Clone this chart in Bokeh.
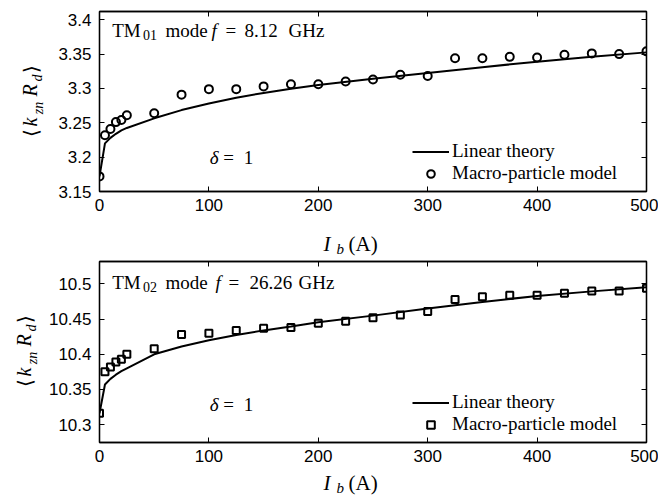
import numpy as np
from bokeh.plotting import figure
from bokeh.models import (Range1d, FixedTicker, LinearAxis, Label, Legend,
                          LegendItem, CustomJSTickFormatter)
from bokeh.layouts import column, row
from bokeh.embed import file_html
from bokeh.resources import INLINE

# ---------------- data ----------------
beam_current = [0, 5, 10, 15, 20, 25, 50, 75, 100, 125, 150, 175, 200, 225,
                250, 275, 300, 325, 350, 375, 400, 425, 450, 475, 500]
tm01_macro = [3.172, 3.232, 3.241, 3.251, 3.254, 3.261, 3.264, 3.291, 3.299,
              3.299, 3.303, 3.306, 3.306, 3.310, 3.313, 3.320, 3.318, 3.344,
              3.344, 3.346, 3.345, 3.349, 3.351, 3.350, 3.354]
tm02_macro = [10.316, 10.375, 10.382, 10.389, 10.393, 10.400, 10.408, 10.428,
              10.430, 10.434, 10.437, 10.438, 10.444, 10.447, 10.452, 10.456,
              10.461, 10.478, 10.482, 10.484, 10.484, 10.487, 10.490, 10.490,
              10.494]
theory_current = [0, 5, 10, 15, 20, 25, 50, 75, 100, 125, 150, 175, 200, 250,
                  300, 350, 400, 450, 500]
tm01_theory = [3.172, 3.220, 3.228, 3.234, 3.239, 3.2425, 3.2565, 3.2685,
               3.278, 3.2865, 3.2935, 3.2995, 3.305, 3.314, 3.3225, 3.331,
               3.339, 3.346, 3.3525]
tm02_theory = [10.316, 10.357, 10.365, 10.371, 10.376, 10.380, 10.400, 10.411,
               10.420, 10.4275, 10.434, 10.4395, 10.4455, 10.455, 10.465,
               10.4745, 10.483, 10.4895, 10.4955]

x_ticks = [0, 100, 200, 300, 400, 500]
tm01_yticks = [3.15, 3.2, 3.25, 3.3, 3.35, 3.4]
tm02_yticks = [10.3, 10.35, 10.4, 10.45, 10.5]

SERIF = "Liberation Serif"
SANS = "Liberation Sans"
INK = "black"

fmt_code = "return Number(tick.toFixed(2)).toString();"

YLAB_W = 44          # width of the strip that carries the y label
BORDER_BOTTOM = 30   # room for the x tick labels
MID = 0.34           # distance from baseline to the text middle, in em


def put(p, s, x, y, size, style="normal", font=SERIF):
    """x, y give the left end of the text and its baseline (screen units)."""
    p.add_layout(Label(x=x, y=y + MID * size, x_units="screen",
                       y_units="screen", text=s, text_font=font,
                       text_font_size=f"{size}px", text_font_style=style,
                       text_align="left", text_baseline="middle",
                       text_color=INK))


def put_up(p, s, cx, cy, size, style="normal", font=SERIF):
    """Text read bottom-to-top, centred on (cx, cy) (screen units)."""
    p.add_layout(Label(x=cx, y=cy, x_units="screen", y_units="screen",
                       text=s, text_font=font, text_font_size=f"{size}px",
                       text_font_style=style, text_align="center",
                       text_baseline="middle", angle=np.pi / 2,
                       text_color=INK))


def label_strip(w, h):
    f = figure(width=w, height=h, x_range=Range1d(0, w), y_range=Range1d(0, h),
               x_axis_type=None, y_axis_type=None, output_backend="svg",
               toolbar_location=None, min_border=0,
               background_fill_color="white", border_fill_color="white")
    f.grid.visible = False
    f.outline_line_color = None
    return f


def make_panel(y_lo, y_hi, yticks, b_top, frame_h):
    p = figure(frame_width=547, frame_height=frame_h,
               x_range=Range1d(0, 500), y_range=Range1d(y_lo, y_hi),
               output_backend="svg", toolbar_location=None,
               min_border_left=99 - YLAB_W, min_border_right=12,
               min_border_top=b_top, min_border_bottom=BORDER_BOTTOM,
               background_fill_color="white", border_fill_color="white")
    p.grid.visible = False
    p.outline_line_color = INK
    p.outline_line_width = 1.3
    for ax, tks in ((p.xaxis[0], x_ticks), (p.yaxis[0], yticks)):
        ax.ticker = FixedTicker(ticks=tks)
        ax.formatter = CustomJSTickFormatter(code=fmt_code)
        ax.major_tick_in = 5
        ax.major_tick_out = 0
        ax.minor_tick_line_color = None
        ax.axis_line_color = INK
        ax.axis_line_width = 1.3
        ax.major_tick_line_color = INK
        ax.major_tick_line_width = 1
        ax.major_label_text_font = SANS
        ax.major_label_text_font_size = "17px"
        ax.major_label_text_color = INK
    p.xaxis.major_label_standoff = 7
    p.yaxis.major_label_standoff = 8
    for loc, tks in (("right", yticks), ("above", x_ticks)):
        ax = LinearAxis(ticker=FixedTicker(ticks=tks),
                        formatter=CustomJSTickFormatter(code="return '';"),
                        major_label_text_font_size="1px",
                        major_label_standoff=0, major_tick_in=5,
                        major_tick_out=0, minor_tick_line_color=None,
                        axis_line_color=INK, axis_line_width=1.3,
                        major_tick_line_color=INK, major_tick_line_width=1)
        p.add_layout(ax, loc)
    return p


def add_content(p, theory, macro, marker, msize, subs, title_x, delta_y,
                title_y):
    lr = p.line(theory_current, theory, line_color=INK, line_width=2)
    sr = p.scatter(beam_current, macro, marker=marker, size=msize,
                   fill_color=None, line_color=INK, line_width=2)
    legend = Legend(items=[LegendItem(label="Linear theory", renderers=[lr]),
                           LegendItem(label="Macro-particle model",
                                      renderers=[sr])],
                    location=(313, 7), glyph_width=37, glyph_height=19,
                    label_height=19, label_standoff=3, spacing=0, padding=0,
                    margin=0, border_line_color=None,
                    background_fill_alpha=0, label_text_font=SERIF,
                    label_text_font_size="19px", label_text_color=INK)
    p.add_layout(legend)

    f_x, eq_x, num, num_x, ghz_x = title_x
    put(p, "TM", 12.7, title_y, 19)
    put(p, subs, 43.5, title_y - 3, 14)
    put(p, "mode", 66, title_y, 19)
    put(p, "f", f_x, title_y, 19, "italic")
    put(p, "=", eq_x, title_y, 19)
    put(p, num, num_x, title_y, 19)
    put(p, "GHz", ghz_x, title_y, 19)
    put(p, "δ", 110.3, delta_y, 19, "italic")
    put(p, "=", 123.7, delta_y, 19)
    put(p, "1", 144.3, delta_y, 19)


def add_ylabel(s, cx, y0):
    """cx: centre line of the big glyphs; y0: centre of the opening bracket,
    measured up from the bottom of the (row-aligned) frame."""
    put_up(s, "⟨", cx, y0, 20)
    put_up(s, "k", cx - 1, y0 + 10.5, 20, "italic")
    put_up(s, "zn", cx + 7.5, y0 + 24.5, 14, "italic")
    put_up(s, "R", cx - 1, y0 + 42, 20, "italic")
    put_up(s, "d", cx + 7, y0 + 54.5, 14, "italic")
    put_up(s, "⟩", cx, y0 + 64, 20)


def add_xlabel(s, base_y):
    put(s, "I", 323, base_y, 21, "italic")
    put(s, "b", 336, base_y - 3, 15, "italic")
    put(s, "(A)", 348, base_y, 21)


# ---------------- top panel (TM01) ----------------
top_h = 11 + 180 + BORDER_BOTTOM
top = make_panel(3.15, 3.412, tm01_yticks, 11, 180)
add_content(top, tm01_theory, tm01_macro, "circle", 8, "01",
            (112, 126, "8.12", 145, 189), 27.7, 155)
ylab_top = label_strip(YLAB_W, top_h)
add_ylabel(ylab_top, 30, 59)
xlab_top_h = 259 - top_h
xlab_top = label_strip(658, xlab_top_h)
add_xlabel(xlab_top, xlab_top_h - (251 - top_h))

# ---------------- bottom panel (TM02) ----------------
bot_h = 2 + 181 + BORDER_BOTTOM
bot = make_panel(10.2745, 10.532, tm02_yticks, 2, 181)
add_content(bot, tm02_theory, tm02_macro, "square", 7, "02",
            (116, 129, "26.26", 150, 199), 31.7, 154)
ylab_bot = label_strip(YLAB_W, bot_h)
add_ylabel(ylab_bot, 24, 60)
xlab_bot_h = 497 - 259 - bot_h
xlab_bot = label_strip(658, xlab_bot_h)
add_xlabel(xlab_bot, xlab_bot_h - (490 - 259 - bot_h))

layout = column(row(ylab_top, top, spacing=0), xlab_top,
                row(ylab_bot, bot, spacing=0), xlab_bot, spacing=0)
open("out.html", "w").write(file_html(layout, INLINE))
